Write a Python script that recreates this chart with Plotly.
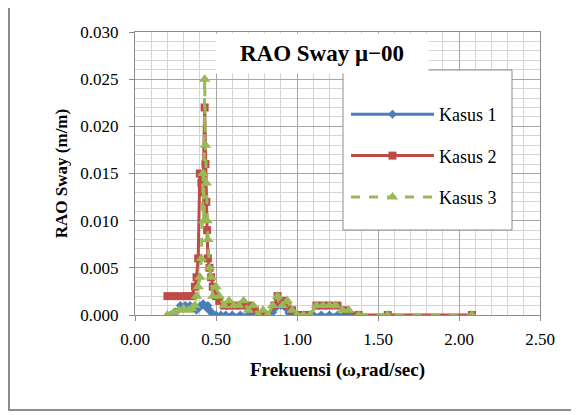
import plotly.graph_objects as go

# ---- data ----
x_kasus1 = [0.22, 0.25, 0.28, 0.31, 0.34, 0.36, 0.38, 0.40, 0.41, 0.42, 0.43, 0.44, 0.45, 0.46,
            0.47, 0.48, 0.50, 0.53, 0.56, 0.60, 0.65, 0.70, 0.75, 0.80, 0.85, 0.90, 0.95, 1.00,
            1.05, 1.10, 1.15, 1.20, 1.25, 1.30, 1.37]
y_kasus1 = [0.0, 0.0003, 0.001, 0.001, 0.001, 0.0008, 0.0005, 0.0009, 0.001, 0.0012, 0.001, 0.0008,
            0.001, 0.0005, 0.0003, 0.0, 0.0, 0.0, 0.0, 0.0, 0.0, 0.0, 0.0, 0.0, 0.0003, 0.001,
            0.0002, 0.0, 0.0, 0.0, 0.0, 0.0, 0.0, 0.0, 0.0]

x_kasus2 = [0.20, 0.24, 0.28, 0.32, 0.35, 0.37, 0.38, 0.39, 0.40, 0.41, 0.42, 0.43, 0.435, 0.44,
            0.445, 0.45, 0.46, 0.47, 0.48, 0.50, 0.52, 0.55, 0.58, 0.62, 0.66, 0.70, 0.74, 0.78,
            0.82, 0.86, 0.88, 0.91, 0.94, 0.97, 1.00, 1.04, 1.08, 1.12, 1.16, 1.20, 1.25, 1.30,
            1.38, 1.56, 2.08]
y_kasus2 = [0.002, 0.002, 0.002, 0.002, 0.002, 0.003, 0.004, 0.006, 0.015, 0.014, 0.013, 0.022,
            0.016, 0.012, 0.009, 0.006, 0.005, 0.004, 0.003, 0.002, 0.0015, 0.001, 0.001, 0.001,
            0.001, 0.001, 0.0005, 0.0, 0.0, 0.001, 0.002, 0.0015, 0.001, 0.0005, 0.0, 0.0, 0.0,
            0.001, 0.001, 0.001, 0.001, 0.0005, 0.0, 0.0, 0.0]

x_kasus3 = [0.20, 0.24, 0.27, 0.30, 0.33, 0.35, 0.37, 0.38, 0.39, 0.40, 0.41, 0.42, 0.425, 0.43,
            0.435, 0.44, 0.445, 0.45, 0.46, 0.47, 0.48, 0.50, 0.52, 0.55, 0.58, 0.61, 0.64, 0.67,
            0.70, 0.73, 0.76, 0.79, 0.82, 0.85, 0.88, 0.91, 0.94, 0.97, 1.00, 1.04, 1.08, 1.12,
            1.16, 1.20, 1.24, 1.28, 1.32, 1.38, 1.56, 2.08]
y_kasus3 = [0.0, 0.0003, 0.0005, 0.0007, 0.0005, 0.0007, 0.001, 0.002, 0.003, 0.004, 0.006, 0.015,
            0.010, 0.025, 0.018, 0.014, 0.010, 0.008, 0.005, 0.004, 0.002, 0.003, 0.002, 0.001,
            0.0015, 0.001, 0.001, 0.0015, 0.0005, 0.001, 0.0, 0.0005, 0.0, 0.001, 0.002, 0.001,
            0.0015, 0.0005, 0.0, 0.0, 0.0, 0.001, 0.001, 0.001, 0.001, 0.0005, 0.0005, 0.0, 0.0, 0.0]

series_names = ["Kasus 1", "Kasus 2", "Kasus 3"]
chart_title = "RAO Sway \u03bc\u221200"
x_title = "Frekuensi (\u03c9,rad/sec)"
y_title = "RAO Sway (m/m)"

SERIF = "Liberation Serif, Times New Roman, serif"
BLUE = "#4A7EBB"
RED = "#BE4B48"
GREEN = "#98B954"
GRID = "#A6A6A6"
MINOR = "#D4D4D4"
BORDER = "#8C8C8C"

# plot-area geometry (screen px of the reference; page has an 8px body offset)
OFF = 8
PL, PR, PT, PB = 135, 540, 32, 315
W, H = 579, 415
PW, PH = PR - PL, PB - PT


def px(xs):
    return (xs - PL) / PW


def py(ys):
    return (PB - ys) / PH


fig = go.Figure()
fig.add_trace(go.Scatter(
    x=x_kasus1, y=y_kasus1, name=series_names[0], mode="lines+markers",
    line=dict(color=BLUE, width=3),
    marker=dict(symbol="diamond", size=7, color=BLUE),
    legendgroup="g1"))
fig.add_trace(go.Scatter(
    x=x_kasus2, y=y_kasus2, name=series_names[1], mode="lines+markers",
    line=dict(color=RED, width=3),
    marker=dict(symbol="square", size=8, color=RED),
    legendgroup="g2"))
fig.add_trace(go.Scatter(
    x=x_kasus3, y=y_kasus3, name=series_names[2], mode="lines+markers",
    line=dict(color=GREEN, width=3, dash="dash"),
    marker=dict(symbol="triangle-up", size=10, color=GREEN),
    legendgroup="g3"))

fig.update_layout(
    width=W, height=H,
    margin=dict(l=PL - OFF, r=W - PR + OFF, t=PT - OFF, b=H - PB + OFF, autoexpand=False),
    paper_bgcolor="white", plot_bgcolor="white",
    font=dict(family=SERIF, size=16, color="black"),
    showlegend=True,
    legend=dict(
        x=px(346), y=py(96), xanchor="left", yanchor="top",
        bgcolor="rgba(0,0,0,0)", borderwidth=0,
        font=dict(family=SERIF, size=18, color="black"),
        tracegroupgap=15, itemwidth=83,
    ),
    xaxis=dict(
        range=[0, 2.5], dtick=0.5, tick0=0, tickformat=".2f",
        showgrid=True, gridcolor=GRID, gridwidth=1,
        minor=dict(dtick=0.1, showgrid=True, gridcolor=MINOR, gridwidth=1),
        showline=True, linecolor=BORDER, linewidth=1, mirror=True,
        ticks="outside", ticklen=5, tickcolor=BORDER,
        zeroline=False, automargin=False, ticklabelstandoff=4,
        tickfont=dict(family=SERIF, size=17),
        title=dict(text="<b>" + x_title + "</b>", font=dict(family=SERIF, size=19), standoff=14),
    ),
    yaxis=dict(
        range=[0, 0.030], dtick=0.005, tick0=0, tickformat=".3f",
        showgrid=True, gridcolor=GRID, gridwidth=1,
        minor=dict(dtick=0.001, showgrid=True, gridcolor=MINOR, gridwidth=1),
        showline=True, linecolor=BORDER, linewidth=1, mirror=True,
        ticks="outside", ticklen=5, tickcolor=BORDER,
        zeroline=False, automargin=False, ticklabelstandoff=7,
        tickfont=dict(family=SERIF, size=17),
        title=dict(text="<b>" + y_title + "</b>", font=dict(family=SERIF, size=17), standoff=8),
    ),
    shapes=[
        dict(type="rect", xref="paper", yref="paper",
             x0=px(9), x1=px(585), y0=py(410), y1=py(5),
             line=dict(color=BORDER, width=2), fillcolor="rgba(0,0,0,0)", layer="above"),
        dict(type="rect", xref="paper", yref="paper",
             x0=px(343), x1=px(512), y0=py(230), y1=py(70),
             line=dict(color=BORDER, width=1), fillcolor="white", layer="above"),
    ],
    annotations=[dict(
        text="<b>" + chart_title + "</b>", xref="paper", yref="paper",
        x=px(215), y=py(33), xanchor="left", yanchor="top",
        width=210, height=37, showarrow=False, bgcolor="white",
        font=dict(family=SERIF, size=23, color="black"))],
)

fig.write_html("out.html")
